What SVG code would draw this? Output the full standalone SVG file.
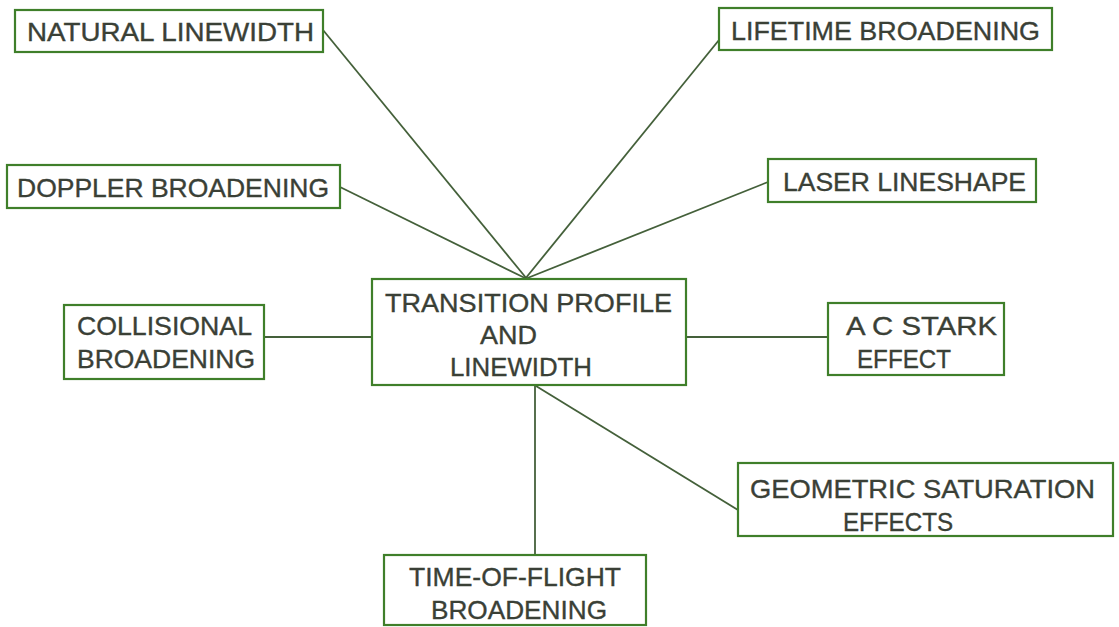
<svg xmlns="http://www.w3.org/2000/svg" width="1119" height="627" viewBox="0 0 1119 627">
<style>
.box{fill:#ffffff;stroke:#3f7f2a;stroke-width:2.2}
.t{font-family:"Liberation Sans",Arial,sans-serif;font-size:26px;fill:#3a4036;stroke:#3a4036;stroke-width:0.35}
.c{stroke:#44603a;stroke-width:1.8;fill:none}
</style>
<rect width="1119" height="627" fill="#ffffff"/>
<g id="connectors">
<line class="c" x1="323" y1="30" x2="527" y2="279"/>
<line class="c" x1="719" y1="40" x2="525" y2="279"/>
<line class="c" x1="340" y1="187" x2="527" y2="279"/>
<line class="c" x1="768" y1="182" x2="525" y2="279"/>
<line class="c" x1="264" y1="337" x2="372" y2="337"/>
<line class="c" x1="686" y1="337" x2="828" y2="337"/>
<line class="c" x1="535" y1="385" x2="535" y2="555"/>
<line class="c" x1="536" y1="386" x2="738" y2="510"/>
</g>
<g id="natural">
<rect class="box" x="15" y="10" width="308" height="42"/>
<text class="t" x="27" y="41" textLength="287" lengthAdjust="spacingAndGlyphs">NATURAL LINEWIDTH</text>
</g>
<g id="lifetime">
<rect class="box" x="719" y="8" width="333" height="42"/>
<text class="t" x="731" y="40" textLength="309" lengthAdjust="spacingAndGlyphs">LIFETIME BROADENING</text>
</g>
<g id="doppler">
<rect class="box" x="7" y="165" width="333" height="43"/>
<text class="t" x="17" y="197" textLength="312" lengthAdjust="spacingAndGlyphs">DOPPLER BROADENING</text>
</g>
<g id="laser">
<rect class="box" x="768" y="159" width="268" height="43"/>
<text class="t" x="783" y="191" textLength="243" lengthAdjust="spacingAndGlyphs">LASER LINESHAPE</text>
</g>
<g id="collisional">
<rect class="box" x="64" y="305" width="200" height="74"/>
<text class="t" x="77" y="335" textLength="175" lengthAdjust="spacingAndGlyphs">COLLISIONAL</text>
<text class="t" x="77" y="368" textLength="178" lengthAdjust="spacingAndGlyphs">BROADENING</text>
</g>
<g id="center">
<rect class="box" x="372" y="279" width="314" height="106"/>
<text class="t" x="385" y="312" textLength="287" lengthAdjust="spacingAndGlyphs">TRANSITION PROFILE</text>
<text class="t" x="480" y="344" textLength="57" lengthAdjust="spacingAndGlyphs">AND</text>
<text class="t" x="450" y="376" textLength="142" lengthAdjust="spacingAndGlyphs">LINEWIDTH</text>
</g>
<g id="stark">
<rect class="box" x="828" y="303" width="176" height="72"/>
<text class="t" x="846" y="335" textLength="151" lengthAdjust="spacingAndGlyphs">A C STARK</text>
<text class="t" x="857" y="368" textLength="94" lengthAdjust="spacingAndGlyphs">EFFECT</text>
</g>
<g id="geometric">
<rect class="box" x="738" y="463" width="375" height="73"/>
<text class="t" x="750" y="498" textLength="345" lengthAdjust="spacingAndGlyphs">GEOMETRIC SATURATION</text>
<text class="t" x="843" y="531" textLength="110" lengthAdjust="spacingAndGlyphs">EFFECTS</text>
</g>
<g id="tof">
<rect class="box" x="384" y="555" width="262" height="70"/>
<text class="t" x="409" y="586" textLength="212" lengthAdjust="spacingAndGlyphs">TIME-OF-FLIGHT</text>
<text class="t" x="431" y="619" textLength="176" lengthAdjust="spacingAndGlyphs">BROADENING</text>
</g>
</svg>
